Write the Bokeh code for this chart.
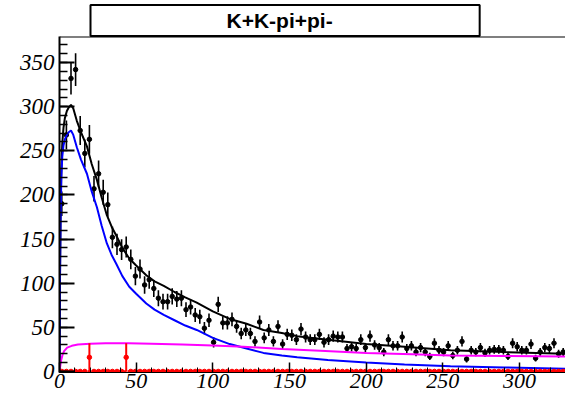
import math
from bokeh.plotting import figure
from bokeh.models import Range1d, FixedTicker, ColumnDataSource, Span, Title
from bokeh.embed import file_html
from bokeh.resources import INLINE

# ---------------- data ----------------
bin_width = 3.0
counts = [190, 268, 332, 342, 273, 247, 263, 207, 224, 203,
          189, 152, 144, 138, 141, 127, 108, 116, 98, 104,
          94, 83, 79, 79, 85, 82, 83, 70, 73, 64,
          62, 49, 58, 33, 76, 55, 55, 59, 51, 43,
          47, 43, 34, 56, 38, 47, 34, 51, 31, 42,
          41, 36, 48, 39, 36, 36, 42, 33, 36, 40,
          39, 39, 26, 28, 26, 36, 27, 40, 30, 27,
          22, 36, 29, 29, 39, 26, 29, 22, 27, 22,
          17, 32, 24, 22, 29, 18, 24, 34, 14, 24,
          22, 27, 21, 24, 25, 25, 24, 17, 32, 28,
          24, 24, 31, 15, 22, 27, 26, 32, 20, 22]
red_counts = [0] * 110
red_counts[6] = 16
red_counts[14] = 16
red_errors = [0] * 110
red_errors[6] = 16
red_errors[14] = 16

curve_x = [0, 0.3, 0.7, 1.2, 1.8, 2.6, 3.5, 4.8, 6.0, 7.5, 9, 11.3, 14, 17.9, 21,
           24.4, 27.5, 30.9, 34, 37, 41, 45.5, 50, 56.6, 62, 68, 75, 82, 89.5, 100,
           111, 122, 133, 145, 155, 175, 200, 225, 255, 290, 330]
blue_y = [0, 100, 170, 220, 243, 256, 263, 268, 271, 273, 268, 254, 240, 224, 204,
          186, 165, 145, 132, 122, 108, 96, 88, 77, 70, 64, 58, 52, 47, 38,
          31, 26, 21, 18, 16, 13, 10, 8, 6, 4.5, 3]
black_y = [0, 102, 176, 229, 258, 276, 287, 295, 299, 302, 298, 284, 271, 255, 235,
           217, 197, 177, 164, 154, 140, 128, 120, 109, 102, 97, 90, 84, 78, 68,
           59.5, 54, 47, 43.5, 40, 36, 31, 28, 24, 22, 20]
mag_x = [0, 1, 2, 3, 5, 8, 12, 20, 30, 45, 60, 80, 100, 120, 145, 170, 200, 230, 255, 290, 330]
mag_y = [0, 12, 19, 23, 27, 29, 30.5, 31.5, 32, 32, 31.5, 30.5, 29.5, 28, 25.5, 23.5, 21, 19.5, 18, 17.5, 17]

x_major = [0, 50, 100, 150, 200, 250, 300]
x_minor = list(range(0, 331, 10))
y_major = [0, 50, 100, 150, 200, 250, 300, 350]
y_minor = list(range(0, 380, 10))
title_text = "K+K-pi+pi-"

# ---------------- derived ----------------
centers = [bin_width * (i + 0.5) for i in range(len(counts))]
errs = [math.sqrt(c) for c in counts]
src = ColumnDataSource(dict(x=centers, y=counts,
                            lo=[c - e for c, e in zip(counts, errs)],
                            hi=[c + e for c, e in zip(counts, errs)]))
rsrc = ColumnDataSource(dict(x=centers, y=red_counts,
                             lo=[max(0, c - e) for c, e in zip(red_counts, red_errors)],
                             hi=[c + e for c, e in zip(red_counts, red_errors)]))

Y_TOP = 379.5
title = Title(text=title_text, align="left", offset=31, standoff=1,
              text_font="Liberation Sans", text_font_style="bold", text_font_size="21px",
              text_color="black", background_fill_color="white",
              border_line_color="black", border_line_width=2,
              padding=dict(left=136, right=147, top=4, bottom=4))
p = figure(width=565, height=398, output_backend="svg", toolbar_location=None,
           x_range=Range1d(0, 330), y_range=Range1d(-1.2, Y_TOP), title=title,
           min_border_left=59, min_border_right=0, min_border_top=36, min_border_bottom=26)
p.background_fill_color = "white"
p.border_fill_color = "white"
p.outline_line_color = None
p.xgrid.visible = False
p.ygrid.visible = False

# data points
p.segment(x0="x", y0="lo", x1="x", y1="hi", source=src, line_color="black", line_width=1.6)
p.scatter(x="x", y="y", source=src, size=4.5, color="black")

# curves
p.line(curve_x, black_y, line_color="black", line_width=2)
p.line(curve_x, blue_y, line_color="#0000ff", line_width=2)
p.line(mag_x, mag_y, line_color="#ff00ff", line_width=2)

# red histogram
p.line([0, 330], [0, 0], line_color="#ff0000", line_width=2.5, line_dash="3 1")
p.segment(x0="x", y0="lo", x1="x", y1="hi", source=rsrc, line_color="#ff0000", line_width=2)
p.scatter(x="x", y="y", source=rsrc, size=4.5, color="#ff0000")

# axes
xa = p.xaxis[0]
xa.ticker = FixedTicker(ticks=x_major, minor_ticks=x_minor)
xa.major_tick_in = 10
xa.major_tick_out = 0
xa.minor_tick_in = 5
xa.minor_tick_out = 0
xa.axis_line_width = 1
xa.major_tick_line_width = 1.5
xa.minor_tick_line_width = 1
xa.major_label_text_font = "Liberation Serif"
xa.major_label_text_font_style = "italic"
xa.major_label_text_font_size = "22px"
xa.major_label_text_color = "black"
xa.major_label_standoff = 1

ya = p.yaxis[0]
ya.ticker = FixedTicker(ticks=y_major, minor_ticks=y_minor)
ya.major_tick_in = 15
ya.major_tick_out = 0
ya.minor_tick_in = 8
ya.minor_tick_out = 0
ya.axis_line_width = 2
ya.major_tick_line_width = 2
ya.minor_tick_line_width = 1.5
ya.major_label_text_font = "Liberation Serif"
ya.major_label_text_font_style = "italic"
ya.major_label_text_font_size = "23px"
ya.major_label_text_color = "black"
ya.major_label_standoff = 5

# top frame border
p.add_layout(Span(location=Y_TOP, dimension="width", line_color="black", line_width=2))

open("out.html", "w").write(file_html(p, INLINE))
